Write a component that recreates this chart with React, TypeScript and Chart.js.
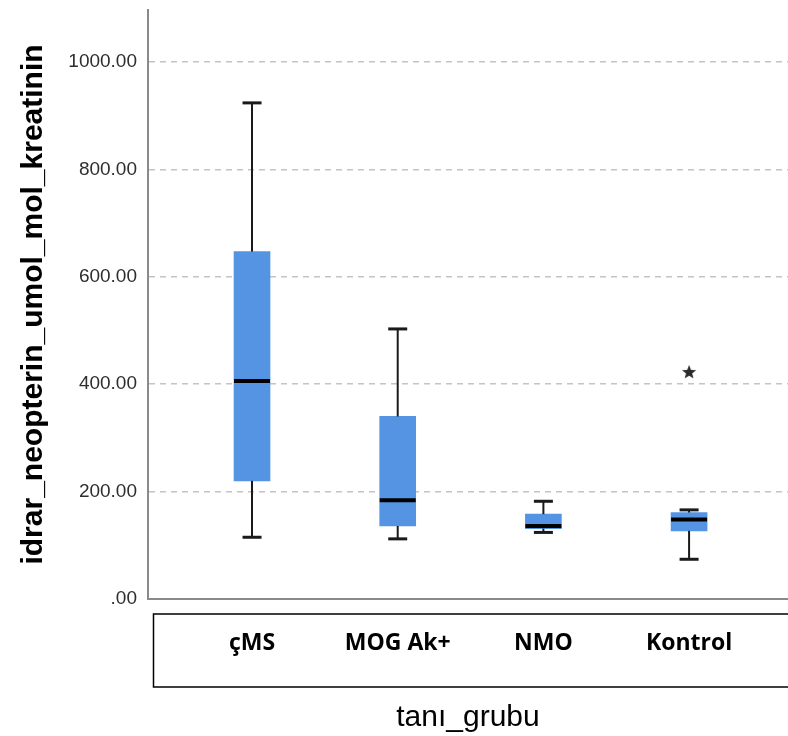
import React, { useEffect, useRef } from 'react';
import { Chart, registerables } from 'chart.js';

Chart.register(...registerables);

// ---- data ----
const categories = ['çMS', 'MOG Ak+', 'NMO', 'Kontrol'];
const whiskerLow = [115, 112, 124, 74];
const q1 = [220, 136, 131, 127];
const median = [406, 184, 136, 148];
const q3 = [647, 340, 158, 161];
const whiskerHigh = [924, 503, 182, 166];
const extremeCategory = [3];
const extremeValue = [423];
const yTicks = [0, 200, 400, 600, 800, 1000];
const yTickLabels = ['.00', '200.00', '400.00', '600.00', '800.00', '1000.00'];
const xTitle = 'tanı_grubu';
const yTitle = 'idrar_neopterin_umol_mol_kreatinin';

const BOX_COLOR = '#5594e3';
const SANS = '"Liberation Sans", Arial, sans-serif';

function makeStar(): HTMLCanvasElement {
  const c = document.createElement('canvas');
  c.width = 18;
  c.height = 18;
  const g = c.getContext('2d')!;
  g.fillStyle = '#2a2a2a';
  g.beginPath();
  const cx = 9, cy = 9.5, R = 7.5, r = 3.2;
  for (let k = 0; k < 10; k++) {
    const a = -Math.PI / 2 + (k * Math.PI) / 5;
    const rad = k % 2 === 0 ? R : r;
    const px = cx + rad * Math.cos(a);
    const py = cy + rad * Math.sin(a);
    if (k === 0) g.moveTo(px, py);
    else g.lineTo(px, py);
  }
  g.closePath();
  g.fill();
  return c;
}

const boxExtras = {
  id: 'boxExtras',
  afterDatasetsDraw(chart: any) {
    const { ctx, scales } = chart;
    const x = scales.x;
    const y = scales.y;
    ctx.save();
    const line = (x1: number, y1: number, x2: number, y2: number) => {
      ctx.beginPath();
      ctx.moveTo(x1, y1);
      ctx.lineTo(x2, y2);
      ctx.stroke();
    };
    categories.forEach((_, i) => {
      const cx = x.getPixelForValue(i);
      const capHalf = 9.5;
      const boxHalf = 18;
      ctx.strokeStyle = '#1a1a1a';
      ctx.lineWidth = 2;
      const yHi = y.getPixelForValue(whiskerHigh[i]);
      const yLo = y.getPixelForValue(whiskerLow[i]);
      const yQ1 = y.getPixelForValue(q1[i]);
      const yQ3 = y.getPixelForValue(q3[i]);
      line(cx, yQ3, cx, yHi);
      line(cx, yQ1, cx, yLo);
      ctx.lineWidth = 3;
      line(cx - capHalf, yHi, cx + capHalf, yHi);
      line(cx - capHalf, yLo, cx + capHalf, yLo);
      ctx.strokeStyle = '#000';
      ctx.lineWidth = 4;
      const yMed = y.getPixelForValue(median[i]);
      line(cx - boxHalf, yMed, cx + boxHalf, yMed);
    });
    ctx.restore();
  },
  afterDraw(chart: any) {
    const { ctx, chartArea } = chart;
    ctx.save();
    ctx.strokeStyle = '#000';
    ctx.lineWidth = 1.5;
    ctx.strokeRect(chartArea.left + 5.5, chartArea.bottom + 15, chartArea.right - chartArea.left + 10, 73);
    ctx.restore();
  },
};

export default function App() {
  const ref = useRef<HTMLCanvasElement | null>(null);

  useEffect(() => {
    if (!ref.current) return;
    const star = makeStar();
    const chart = new Chart(ref.current, {
      type: 'bar',
      data: {
        datasets: [
          {
            type: 'bar',
            data: categories.map((_, i) => ({ x: i, y: [q1[i], q3[i]] })) as any,
            backgroundColor: BOX_COLOR,
            borderWidth: 0,
            barThickness: 36,
          },
          {
            type: 'scatter',
            data: extremeCategory.map((c, i) => ({ x: c, y: extremeValue[i] })) as any,
            pointStyle: star as any,
            pointRadius: 8,
          } as any,
        ],
      },
      options: {
        responsive: false,
        animation: false,
        layout: { autoPadding: false, padding: { top: 10, left: 0, right: 0, bottom: 0 } },
        plugins: { legend: { display: false }, tooltip: { enabled: false } },
        scales: {
          x: {
            type: 'linear',
            min: -0.714,
            max: 3.679,
            offset: false,
            grid: { display: false, offset: false, drawTicks: false },
            border: { display: true, color: '#8a8a8a', width: 2 },
            afterBuildTicks: (scale: any) => {
              scale.ticks = categories.map((_, i) => ({ value: i }));
            },
            afterFit: (scale: any) => {
              scale.height = 137;
              scale.paddingLeft = 0;
              scale.paddingRight = 0;
            },
            ticks: {
              autoSkip: false,
              maxRotation: 0,
              minRotation: 0,
              padding: 31,
              color: '#000',
              font: { family: '"Open Sans", sans-serif', weight: 'bold', size: 23 },
              callback: (v: any) => categories[Number(v)] ?? '',
            },
            title: {
              display: true,
              text: xTitle,
              color: '#000',
              font: { family: SANS, size: 30 },
              padding: { top: 0, bottom: 0 },
            },
          },
          y: {
            type: 'linear',
            min: 0,
            max: 1097,
            grid: { color: '#c4c4c4', lineWidth: 1.6, drawTicks: false },
            border: { display: true, color: '#8a8a8a', width: 2, dash: [6, 5] },
            afterBuildTicks: (scale: any) => {
              scale.ticks = yTicks.map((v) => ({ value: v }));
            },
            afterFit: (scale: any) => {
              scale.width = 148;
              scale.paddingTop = 0;
              scale.paddingBottom = 0;
            },
            ticks: {
              padding: 11,
              color: '#2e2e2e',
              font: { family: SANS, size: 19 },
              callback: (_v: any, idx: number) => yTickLabels[idx],
            },
            title: {
              display: true,
              text: yTitle,
              color: '#000',
              font: { family: SANS, size: 30, weight: 'bold' },
              padding: { top: 16, bottom: 0 },
            },
          },
        },
      },
      plugins: [boxExtras],
    } as any);
    return () => chart.destroy();
  }, []);

  return (
    <div style={{ position: 'fixed', left: 0, top: 0, width: 788, height: 736, background: '#fff' }}>
      <canvas ref={ref} width={788} height={736} style={{ display: 'block' }} />
    </div>
  );
}
